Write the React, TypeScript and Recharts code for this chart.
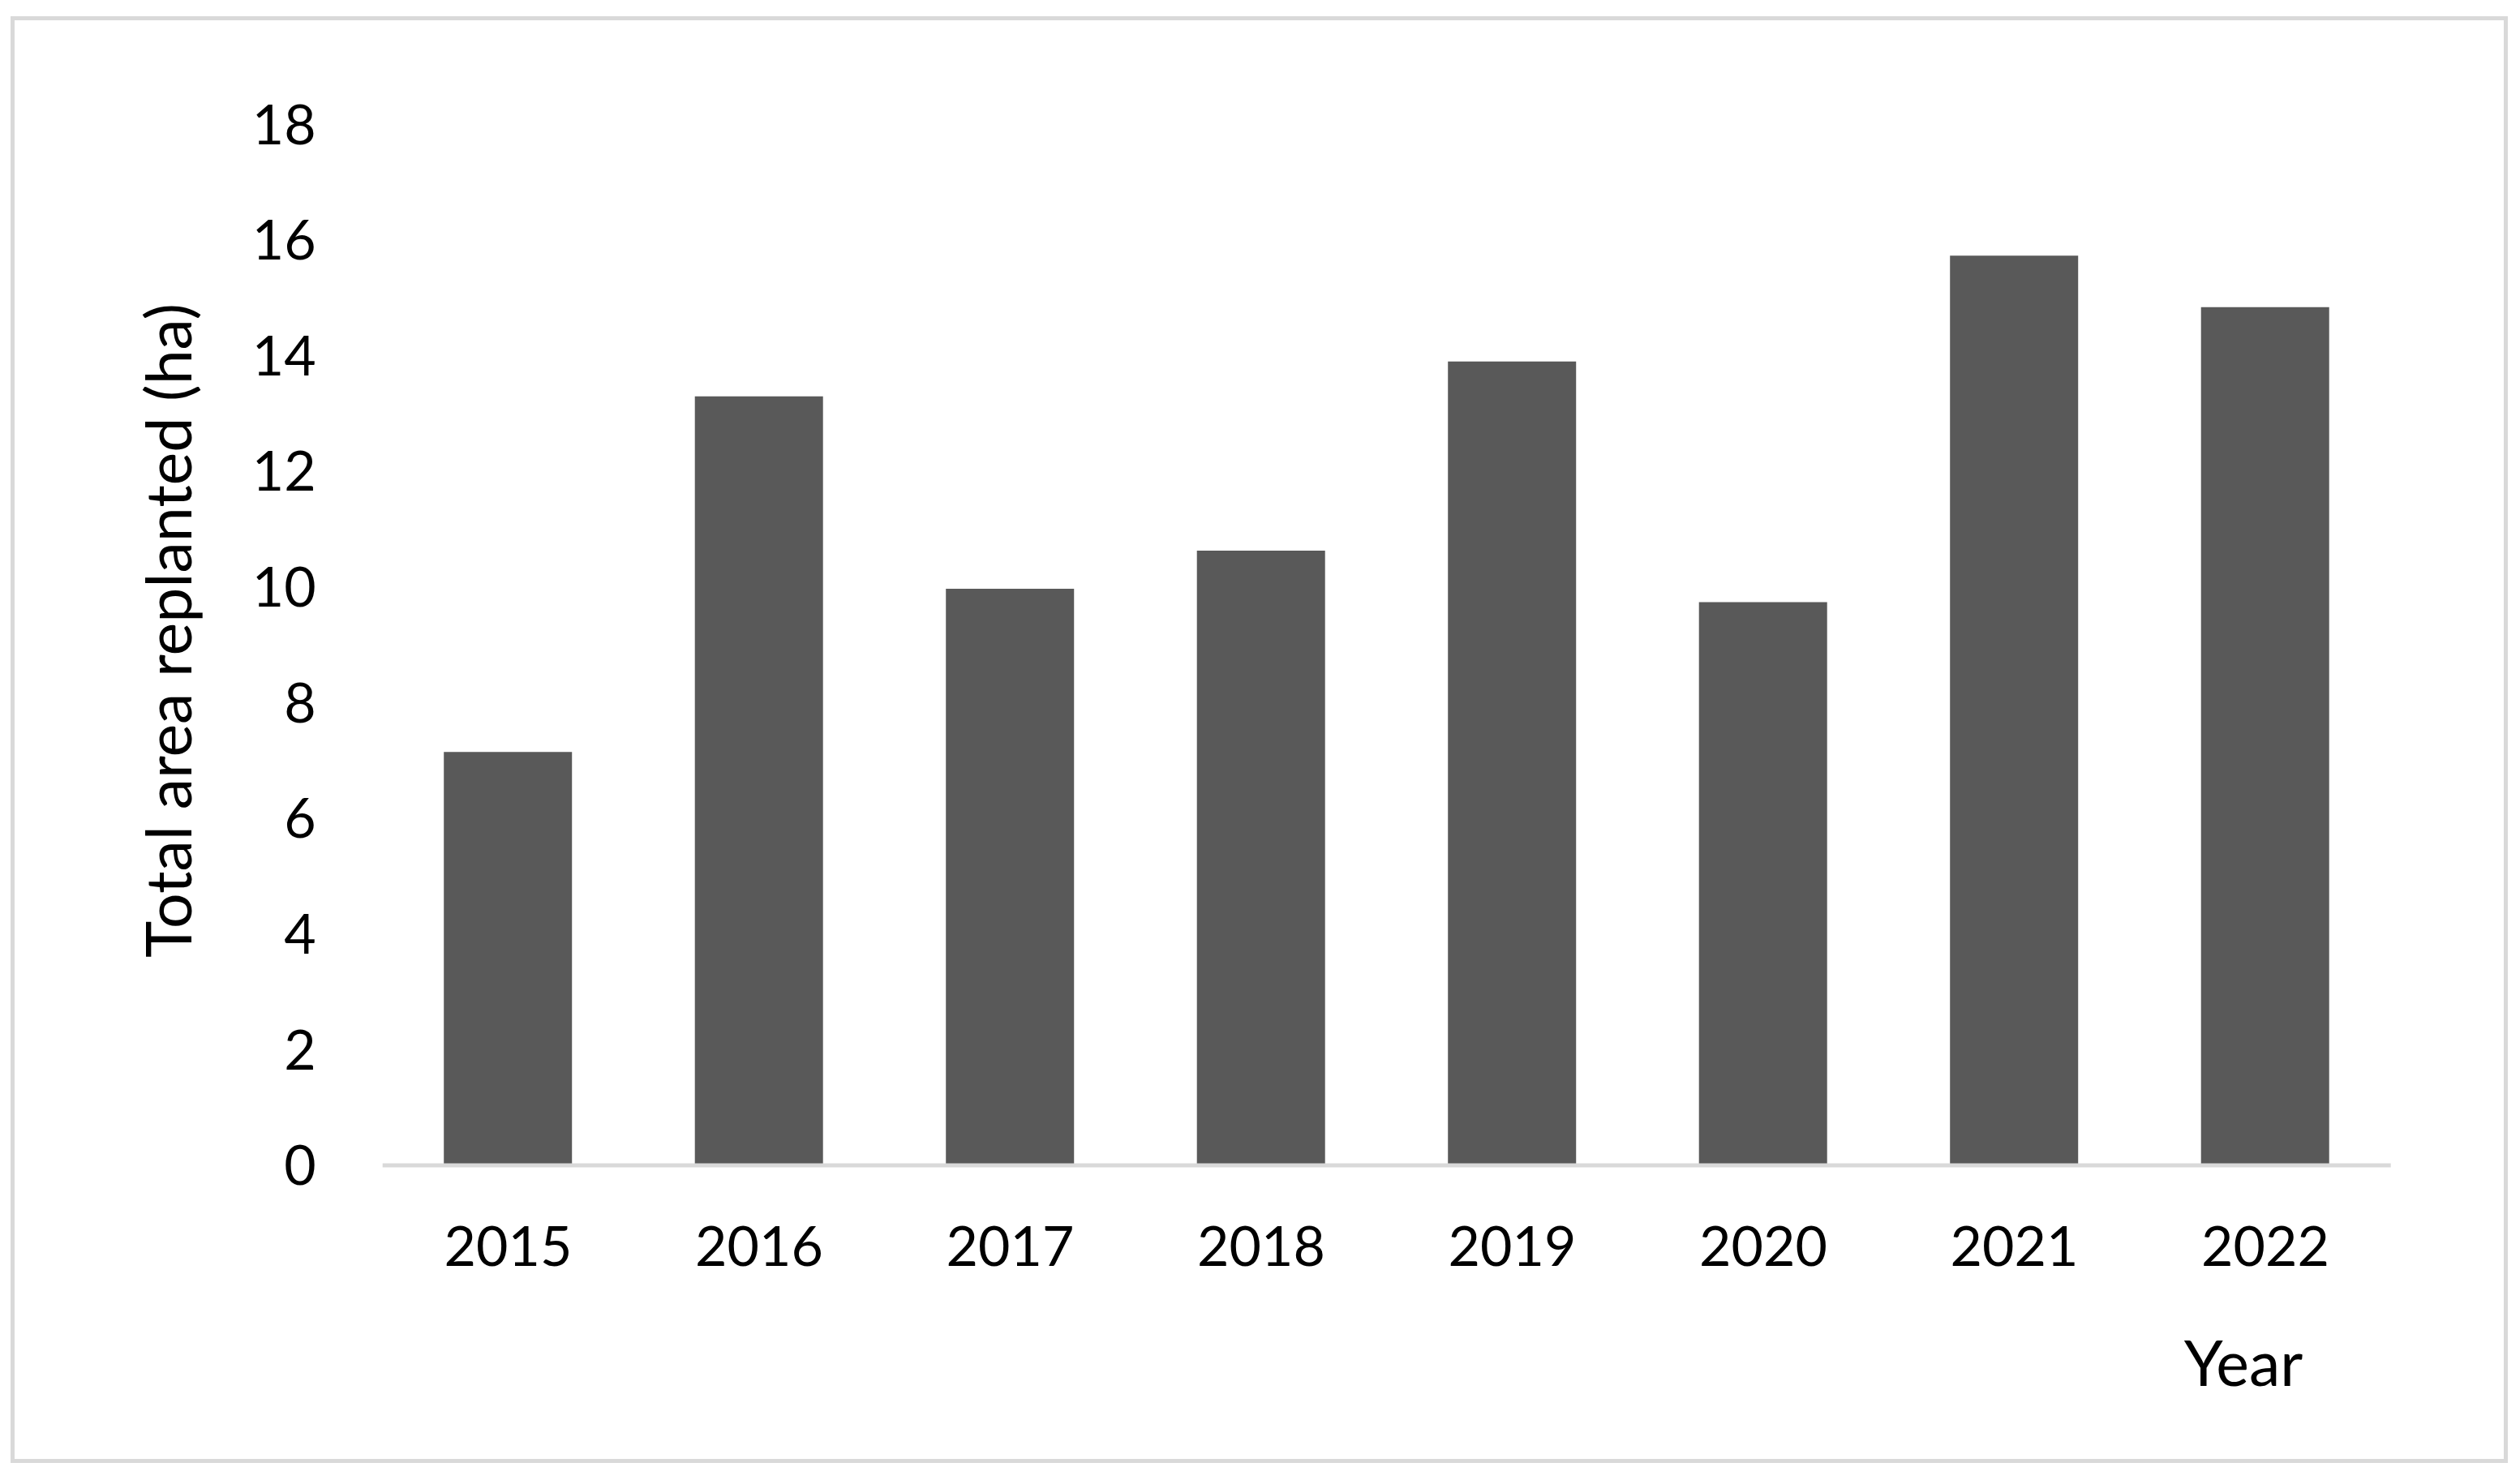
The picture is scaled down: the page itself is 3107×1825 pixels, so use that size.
import { Bar, BarChart, XAxis, YAxis } from "recharts";

// values (ha)
const years = ["2015", "2016", "2017", "2018", "2019", "2020", "2021", "2022"];
const areaReplanted = [7.15, 13.3, 9.97, 10.63, 13.9, 9.74, 15.73, 14.84];
const yTicks = [0, 2, 4, 6, 8, 10, 12, 14, 16, 18];

const chartData = years.map((year, i) => ({ year, area: areaReplanted[i] }));

const FONT = "Lato, 'Open Sans', sans-serif";
const W = 3107;
const H = 1825;

export default function App() {
  return (
    <div
      style={{
        position: "absolute",
        left: 0,
        top: 0,
        width: W,
        height: H,
        background: "#ffffff",
        overflow: "hidden",
      }}
    >
      {/* light grey frame round the chart */}
      <div
        style={{
          position: "absolute",
          left: 13,
          top: 20,
          width: 3079,
          height: 1784,
          border: "5px solid #d9d9d9",
          boxSizing: "border-box",
        }}
      />
      <div style={{ position: "absolute", left: 0, top: 0 }}>
        <BarChart
          width={W}
          height={H}
          data={chartData}
          margin={{ top: 153.5, right: 159.3, bottom: 288, left: 371.7 }}
          barCategoryGap="24.4%"
        >
          <XAxis
            dataKey="year"
            height={100}
            axisLine={{ stroke: "#d9d9d9", strokeWidth: 5 }}
            tickLine={false}
            tickSize={0}
            tickMargin={76}
            tick={{ fill: "#000000", fontSize: 68, fontFamily: FONT }}
          />
          <YAxis
            width={100}
            domain={[0, 18]}
            ticks={yTicks}
            interval={0}
            axisLine={false}
            tickLine={false}
            tickSize={0}
            tickMargin={82}
            tick={{ fill: "#000000", fontSize: 68, fontFamily: FONT }}
          />
          <Bar dataKey="area" fill="#595959" isAnimationActive={false} />
        </BarChart>
      </div>
      {/* axis titles */}
      <svg
        width={W}
        height={H}
        style={{ position: "absolute", left: 0, top: 0, pointerEvents: "none" }}
      >
        <text
          transform="rotate(-90)"
          x={-777.5}
          y={236}
          textAnchor="middle"
          fontSize={77}
          fontFamily={FONT}
          fill="#000000"
        >
          Total area replanted (ha)
        </text>
        <text
          x={2766}
          y={1709}
          textAnchor="middle"
          fontSize={77}
          fontFamily={FONT}
          fill="#000000"
        >
          Year
        </text>
      </svg>
    </div>
  );
}
